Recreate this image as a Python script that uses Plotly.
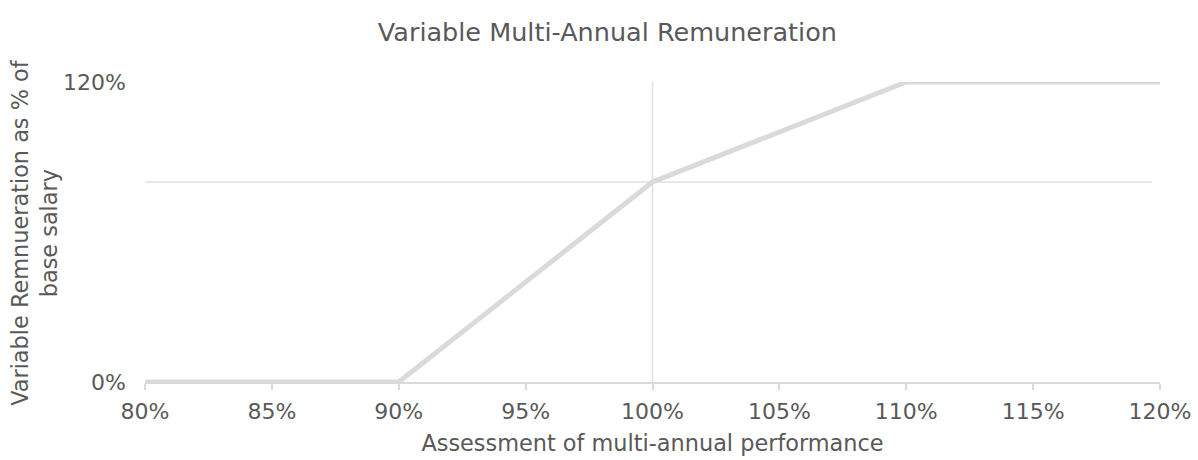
import plotly.graph_objects as go

# Performance assessment (% of target) and resulting variable pay (% of base salary)
performance = [80, 90, 100, 110, 120]
remuneration = [0, 0, 80, 120, 120]

x_ticks = [80, 85, 90, 95, 100, 105, 110, 115, 120]
x_tick_labels = ["80%", "85%", "90%", "95%", "100%", "105%", "110%", "115%", "120%"]
y_ticks = [0, 120]
y_tick_labels = ["0%", "120%"]

# reference lines: target remuneration level and 100% performance
target_level = 80
target_performance = 100

FONT = "Verdana, DejaVu Sans, sans-serif"
TEXT = "#595959"
GRID = "#e0e0e0"

fig = go.Figure()
fig.add_trace(go.Scatter(
    x=performance, y=remuneration, mode="lines",
    line=dict(color="#dadada", width=5),
    cliponaxis=False, showlegend=False, hoverinfo="skip",
))

fig.add_shape(type="line", xref="x", yref="y", layer="below",
              x0=79.1, x1=119.7, y0=target_level, y1=target_level,
              line=dict(color=GRID, width=1.5))
fig.add_shape(type="line", xref="x", yref="y", layer="below",
              x0=target_performance, x1=target_performance, y0=0, y1=122.5,
              line=dict(color=GRID, width=1.5))

# vertical y-axis title, two lines
fig.add_annotation(
    text="Variable Remnueration as % of<br>base salary",
    xref="paper", yref="paper", x=-0.1095, y=0.5,
    xanchor="center", yanchor="middle", textangle=-90,
    showarrow=False, font=dict(size=22.4, color=TEXT),
)

fig.update_layout(
    width=1198, height=460,
    margin=dict(l=145, r=38, t=82, b=78),
    paper_bgcolor="white", plot_bgcolor="white",
    font=dict(family=FONT, color=TEXT, size=22),
    title=dict(text="Variable Multi-Annual Remuneration", x=0.507, xanchor="center",
               y=0.93, yanchor="middle", font=dict(size=25.5, color=TEXT)),
    xaxis=dict(
        range=[80, 120], tickvals=x_ticks, ticktext=x_tick_labels,
        automargin=False,
        showgrid=False, zeroline=False,
        showline=True, linecolor="#d9d9d9", linewidth=1.5,
        ticks="outside", ticklen=6, tickcolor="#d9d9d9", tickwidth=1.5,
        ticklabelstandoff=3,
        tickfont=dict(size=22, color=TEXT),
        title=dict(text="Assessment of multi-annual performance", standoff=12,
                   font=dict(size=22.4, color=TEXT)),
    ),
    yaxis=dict(
        range=[0, 120], tickvals=y_ticks, ticktext=y_tick_labels,
        automargin=False,
        showgrid=False, zeroline=False, showline=False, ticks="",
        ticklabelstandoff=18,
        tickfont=dict(size=22, color=TEXT),
    ),
)

fig.write_html("out.html")
